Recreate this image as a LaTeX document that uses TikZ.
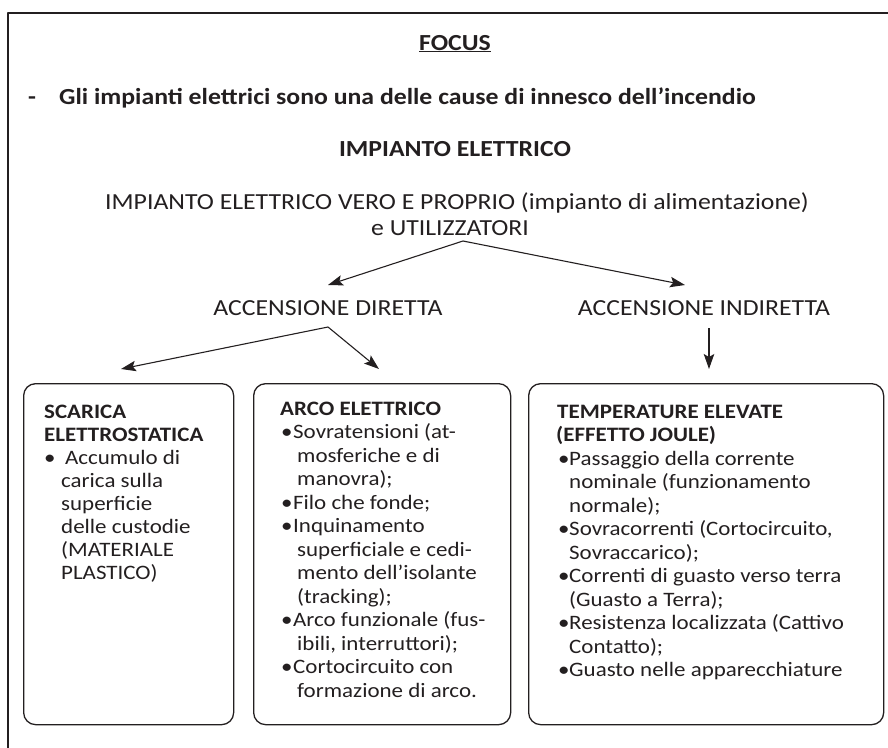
\documentclass[tikz,border=0pt]{standalone}
\usepackage{fontspec}
\setmainfont{Carlito}[FakeStretch=1.12]
\usetikzlibrary{arrows.meta}
\definecolor{ink}{HTML}{231F20}
\begin{document}
\begin{tikzpicture}[x=1pt,y=-1pt, line join=round, color=ink,
  frame/.style={draw=ink, line width=2.5pt},
  boxst/.style={draw=ink, line width=1.3pt, rounded corners=12pt, inner sep=0pt, anchor=north west, minimum height=341pt},
  conn/.style={draw=ink, line width=1.1pt, -{Stealth[length=15pt,width=10.5pt,inset=3pt]}},
  ttl/.style={font=\fontsize{23}{26}\selectfont\bfseries, inner sep=0pt, text=ink},
  lbl/.style={font=\fontsize{23}{26}\selectfont, inner sep=0pt, text=ink},
  body/.style={font=\fontsize{20.5}{23.5}\selectfont, inner sep=0pt, anchor=base west, text=ink},
]
\useasboundingbox (0,0) rectangle (888,747);
\draw[frame] (8,760) -- (8,13) -- (900,13);

% titles
\node[ttl, anchor=base] (focus) at (455,50) {\underline{FOCUS}};
\node[ttl, anchor=base west] (dash) at (28,104) {-};
\node[ttl, anchor=base west] (gli) at (59,104) {Gli impianti elettrici sono una delle cause di innesco dell’incendio};
\node[ttl, anchor=base] (ie) at (455,156) {IMPIANTO ELETTRICO};
\node[lbl, anchor=base] (vero) at (457,209) {IMPIANTO ELETTRICO VERO E PROPRIO (impianto di alimentazione)};
\node[lbl, anchor=base] (util) at (450,235) {e UTILIZZATORI};
\node[lbl, anchor=base] (dir) at (328,315) {ACCENSIONE DIRETTA};
\node[lbl, anchor=base] (ind) at (704,315) {ACCENSIONE INDIRETTA};

% boxes
\node[boxst, minimum width=210pt] (b1) at (23,383) {};
\node[boxst, minimum width=257pt] (b2) at (253,383) {};
\node[boxst, minimum width=355pt] (b3) at (528,383) {};

% connectors
\coordinate (a0) at (463,241);
\coordinate (a1) at (328,285);
\coordinate (a2) at (685,285);
\coordinate (d0) at (328,327);
\coordinate (d1) at (121,369);
\coordinate (d2) at (379,369);
\coordinate (i0) at (709,328);
\coordinate (i1) at (709,369);
\draw[conn] (a0) -- (a1);
\draw[conn] (a0) -- (a2);
\draw[conn] (d0) -- (d1);
\draw[conn] (d0) -- (d2);
\draw[conn] (i0) -- (i1);

% box texts
\node[body] (t1) at (44,418) {\parbox[t]{185pt}{\raggedright\fontsize{20.5}{23}\selectfont
\textbf{SCARICA}\\
\textbf{ELETTROSTATICA}\\
\hspace*{0pt}\makebox[21pt][l]{\textbullet}Accumulo di\\
\hspace*{17pt}carica sulla\\
\hspace*{17pt}superficie\\
\hspace*{17pt}delle custodie\\
\hspace*{17pt}(MATERIALE\\
\hspace*{17pt}PLASTICO)}};

\node[body] (t2) at (280,415) {\parbox[t]{228pt}{\raggedright
\textbf{ARCO ELETTRICO}\\
\hspace*{1pt}\makebox[12pt][l]{\textbullet}Sovratensioni (at-\\
\hspace*{17pt}mosferiche e di\\
\hspace*{17pt}manovra);\\
\hspace*{1pt}\makebox[12pt][l]{\textbullet}Filo che fonde;\\
\hspace*{1pt}\makebox[12pt][l]{\textbullet}Inquinamento\\
\hspace*{17pt}superficiale e cedi-\\
\hspace*{17pt}mento dell’isolante\\
\hspace*{17pt}(tracking);\\
\hspace*{1pt}\makebox[12pt][l]{\textbullet}Arco funzionale (fus-\\
\hspace*{17pt}ibili, interruttori);\\
\hspace*{1pt}\makebox[12pt][l]{\textbullet}Cortocircuito con\\
\hspace*{17pt}formazione di arco.}};

\node[body] (t3) at (557,418) {\parbox[t]{320pt}{\raggedright
\textbf{TEMPERATURE ELEVATE}\\
\hspace*{-1pt}\textbf{(EFFETTO JOULE)}\\
\hspace*{1pt}\makebox[11pt][l]{\textbullet}Passaggio della corrente\\
\hspace*{12pt}nominale (funzionamento\\
\hspace*{12pt}normale);\\
\hspace*{1pt}\makebox[11pt][l]{\textbullet}Sovracorrenti (Cortocircuito,\\
\hspace*{12pt}Sovraccarico);\\
\hspace*{1pt}\makebox[11pt][l]{\textbullet}Correnti di guasto verso terra\\
\hspace*{12pt}(Guasto a Terra);\\
\hspace*{1pt}\makebox[11pt][l]{\textbullet}Resistenza localizzata (Cattivo\\
\hspace*{12pt}Contatto);\\
\hspace*{1pt}\makebox[11pt][l]{\textbullet}Guasto nelle apparecchiature}};
\end{tikzpicture}
\end{document}
